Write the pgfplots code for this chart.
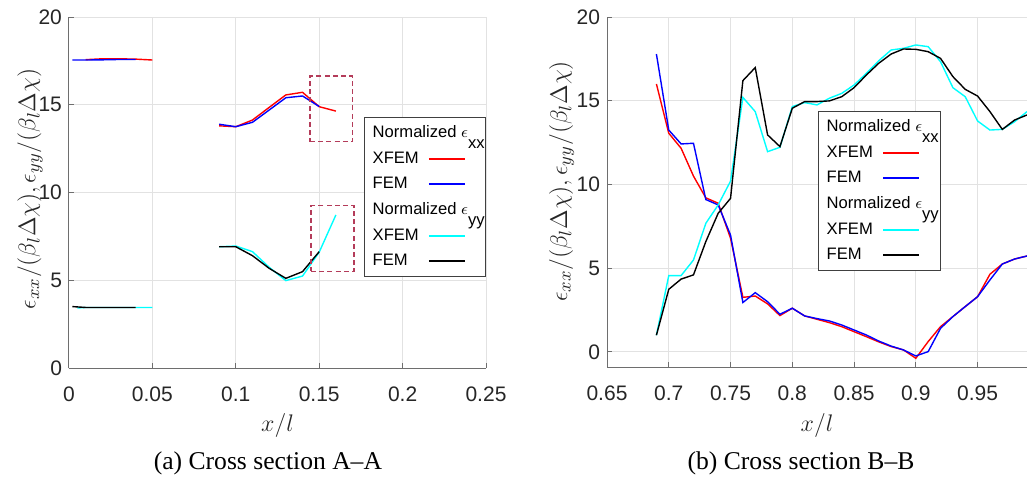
\documentclass[border=0pt]{standalone}
\usepackage{pgfplots}
\pgfplotsset{compat=1.18}
\usepackage{fontspec}
\setmainfont{Liberation Sans}
\newfontfamily\capfont[Ligatures=TeX]{Liberation Serif}

\definecolor{gridc}{RGB}{226,226,226}
\definecolor{axc}{RGB}{110,110,110}
\definecolor{txtc}{RGB}{38,38,38}
\definecolor{boxc}{RGB}{180,60,90}
\definecolor{cyn}{RGB}{0,255,255}

\pgfplotsset{
 mystyle/.style={
  scale only axis,
  clip=false,
  axis x line*=bottom, axis y line*=left,
  axis line style={axc, line width=0.5pt},
  every tick/.style={axc, line width=0.5pt},
  tick align=inside,
  major tick length=2.5pt,
  grid=major,
  major grid style={gridc, line width=0.5pt},
  tick label style={font=\fontsize{10.5}{12}\selectfont, text=txtc},
  /pgf/number format/assume math mode=true,
  /pgf/number format/fixed,
  /pgf/number format/precision=2,
  xticklabel style={yshift=-6pt},
  label style={font=\fontsize{12.4}{14}\selectfont, text=txtc},
  legend cell align=left,
  legend plot pos=right,
  legend style={font=\fontsize{8.3}{10}\selectfont, draw=black!75, line width=0.5pt,
     fill=white, inner xsep=3.5pt, inner ysep=3.5pt, row sep=4.3pt,
     nodes={inner sep=0.6pt}},
  legend image code/.code={\draw[#1, line width=1.1pt] (0pt,0pt) -- (18pt,0pt); \path[draw=none] (0pt,0pt) -- (25pt,0pt);},
 },
 dat/.style={line width=0.7pt, forget plot},
}
\newcommand{\ttl}[1]{\makebox[0pt][l]{Normalized $\epsilon$\raisebox{-5.5pt}{#1}}}
\newcommand{\ent}[1]{\makebox[27pt][l]{#1}}

\begin{document}
\begin{tikzpicture}
\useasboundingbox (-34.5pt,-55.5pt) rectangle (479pt,184pt);

% ---------------- (a) ----------------
\begin{axis}[mystyle,
  at={(0pt,0pt)}, anchor=south west,
  width=208.5pt, height=175.5pt,
  xmin=0, xmax=0.25, ymin=0, ymax=20,
  xtick={0,0.05,0.1,0.15,0.2,0.25},
  ytick={0,5,10,15,20},
  xlabel={$x/l$},
  ylabel={$\epsilon_{xx}/(\beta_l\Delta\chi),\epsilon_{yy}/(\beta_l\Delta\chi)$},
  xlabel style={at={(axis description cs:0.5,-0.165)}, anchor=center},
  ylabel style={at={(axis description cs:-0.0935,0.51)}, anchor=center},
  legend style={at={(axis description cs:0.7074,0.7151)}, anchor=north west},
]
% XFEM xx
\addplot[dat, red] coordinates {(0.01,17.57)(0.02,17.62)(0.03,17.62)(0.04,17.6)(0.05,17.55)};
\addplot[dat, red] coordinates {(0.09,13.8)(0.10,13.75)(0.11,14.13)(0.12,14.85)(0.13,15.56)(0.14,15.71)(0.15,14.89)(0.16,14.64)};
% FEM xx
\addplot[dat, blue] coordinates {(0.002,17.55)(0.01,17.55)(0.02,17.56)(0.03,17.58)(0.04,17.58)};
\addplot[dat, blue] coordinates {(0.09,13.89)(0.10,13.75)(0.11,14.0)(0.12,14.7)(0.13,15.4)(0.14,15.5)(0.15,14.9)};
% XFEM yy
\addplot[dat, cyn] coordinates {(0.005,3.42)(0.01,3.45)(0.02,3.45)(0.03,3.45)(0.04,3.45)(0.05,3.45)};
\addplot[dat, cyn] coordinates {(0.09,6.91)(0.10,6.95)(0.11,6.63)(0.12,5.74)(0.13,4.98)(0.14,5.24)(0.15,6.6)(0.16,8.72)};
% FEM yy
\addplot[dat, black] coordinates {(0.002,3.5)(0.01,3.45)(0.02,3.45)(0.03,3.45)(0.04,3.45)};
\addplot[dat, black] coordinates {(0.09,6.91)(0.10,6.91)(0.11,6.4)(0.12,5.68)(0.13,5.11)(0.14,5.49)(0.15,6.63)};
% dashed boxes
\addplot[boxc, line width=0.75pt, dash pattern=on 2.5pt off 1.6pt, forget plot] coordinates {(0.1445,12.9)(0.170,12.9)(0.170,16.64)(0.1445,16.64)(0.1445,12.9)};
\addplot[boxc, line width=0.75pt, dash pattern=on 2.5pt off 1.6pt, forget plot] coordinates {(0.1451,5.51)(0.1709,5.51)(0.1709,9.25)(0.1451,9.25)(0.1451,5.51)};
% legend
\addlegendimage{empty legend}\addlegendentry{\ttl{xx}}
\addlegendimage{red}\addlegendentry{\ent{XFEM}}
\addlegendimage{blue}\addlegendentry{\ent{FEM}}
\addlegendimage{empty legend}\addlegendentry{\ttl{yy}}
\addlegendimage{cyn}\addlegendentry{\ent{XFEM}}
\addlegendimage{black}\addlegendentry{\ent{FEM}}
\node[font=\capfont\fontsize{12.8}{14}\selectfont, text=black] at (axis description cs:0.477,-0.2707) {(a) Cross section A--A};
\end{axis}

% ---------------- (b) ----------------
\begin{axis}[mystyle,
  at={(269pt,0.5pt)}, anchor=south west,
  width=210pt, height=175pt,
  xmin=0.65, xmax=0.99, ymin=-0.9, ymax=20,
  xtick={0.65,0.7,0.75,0.8,0.85,0.9,0.95},
  ytick={0,5,10,15,20},
  xlabel={$x/l$},
  ylabel={$\epsilon_{xx}/(\beta_l\Delta\chi),\epsilon_{yy}/(\beta_l\Delta\chi)$},
  xlabel style={at={(axis description cs:0.5,-0.166)}, anchor=center},
  ylabel style={at={(axis description cs:-0.108,0.53)}, anchor=center},
  legend style={at={(axis description cs:0.5024,0.7314)}, anchor=north west},
]
% XFEM xx
\addplot[dat, red] coordinates {
(0.69,16.0)(0.70,13.06)(0.71,12.16)(0.72,10.5)(0.73,9.2)(0.74,8.88)(0.75,6.79)(0.76,3.26)
(0.77,3.34)(0.78,2.87)(0.79,2.17)(0.80,2.61)(0.81,2.15)(0.82,1.95)(0.83,1.75)(0.84,1.51)
(0.85,1.21)(0.86,0.91)(0.87,0.6)(0.88,0.32)(0.89,0.12)(0.90,-0.38)(0.91,0.62)(0.92,1.51)
(0.93,2.11)(0.94,2.71)(0.95,3.3)(0.96,4.64)(0.97,5.25)(0.98,5.55)(0.99,5.73)};
% FEM xx
\addplot[dat, blue] coordinates {
(0.69,17.79)(0.70,13.25)(0.71,12.42)(0.72,12.46)(0.73,9.1)(0.74,8.78)(0.75,6.98)(0.76,2.95)
(0.77,3.54)(0.78,3.0)(0.79,2.25)(0.80,2.61)(0.81,2.15)(0.82,1.99)(0.83,1.85)(0.84,1.61)
(0.85,1.31)(0.86,1.01)(0.87,0.65)(0.88,0.35)(0.89,0.12)(0.90,-0.24)(0.91,0.02)(0.92,1.41)
(0.93,2.11)(0.94,2.71)(0.95,3.3)(0.96,4.3)(0.97,5.25)(0.98,5.55)(0.99,5.73)};
% XFEM yy
\addplot[dat, cyn] coordinates {
(0.69,1.0)(0.70,4.56)(0.71,4.56)(0.72,5.49)(0.73,7.68)(0.74,8.78)(0.75,10.2)(0.76,15.2)
(0.77,14.35)(0.78,11.96)(0.79,12.22)(0.80,14.65)(0.81,14.89)(0.82,14.75)(0.83,15.15)(0.84,15.44)
(0.85,15.94)(0.86,16.64)(0.87,17.39)(0.88,18.03)(0.89,18.13)(0.90,18.33)(0.91,18.23)(0.92,17.33)
(0.93,15.78)(0.94,15.24)(0.95,13.79)(0.96,13.25)(0.97,13.29)(0.98,13.75)(0.99,14.35)};
% FEM yy
\addplot[dat, black] coordinates {
(0.69,1.0)(0.70,3.74)(0.71,4.35)(0.72,4.6)(0.73,6.59)(0.74,8.28)(0.75,9.17)(0.76,16.2)
(0.77,16.98)(0.78,12.96)(0.79,12.26)(0.80,14.55)(0.81,14.95)(0.82,14.95)(0.83,14.99)(0.84,15.24)
(0.85,15.78)(0.86,16.54)(0.87,17.24)(0.88,17.79)(0.89,18.09)(0.90,18.07)(0.91,17.93)(0.92,17.53)
(0.93,16.44)(0.94,15.68)(0.95,15.28)(0.96,14.35)(0.97,13.29)(0.98,13.85)(0.99,14.15)};
% legend
\addlegendimage{empty legend}\addlegendentry{\ttl{xx}}
\addlegendimage{red}\addlegendentry{\ent{XFEM}}
\addlegendimage{blue}\addlegendentry{\ent{FEM}}
\addlegendimage{empty legend}\addlegendentry{\ttl{yy}}
\addlegendimage{cyn}\addlegendentry{\ent{XFEM}}
\addlegendimage{black}\addlegendentry{\ent{FEM}}
\node[font=\capfont\fontsize{12.8}{14}\selectfont, text=black] at (axis description cs:0.462,-0.274) {(b) Cross section B--B};
\end{axis}
\end{tikzpicture}
\end{document}
